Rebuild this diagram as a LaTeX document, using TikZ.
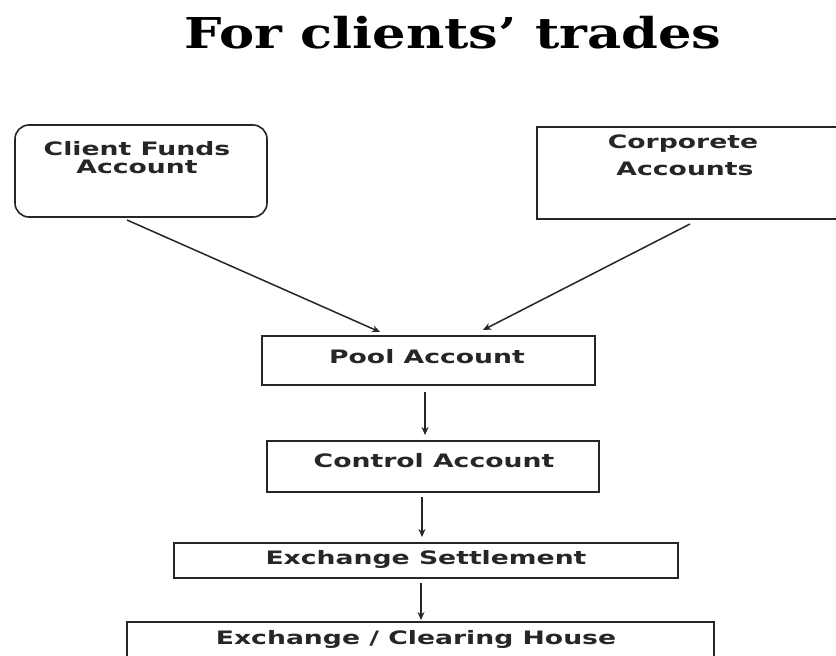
\documentclass[tikz,border=0pt]{standalone}
\usepackage{fontspec}
\newfontfamily\titlefont{DejaVu Serif}[FakeStretch=1.24]
\newfontfamily\boxfont{DejaVu Sans}[FakeStretch=1.44]
\usetikzlibrary{arrows.meta}
\begin{document}
\begin{tikzpicture}[x=1pt,y=-1pt,
  frame/.style={draw=black!85, line width=1.6pt, inner sep=0pt, outer sep=0pt, anchor=north west},
  boxtext/.style={font=\boxfont\bfseries\fontsize{18.5}{18.5}\selectfont, text=black!85, inner sep=0pt, anchor=base},
  flow/.style={draw=black!85, line width=1.5pt, -{Stealth[length=8pt,width=7pt]}}]
\useasboundingbox (0,0) rectangle (836,656);
\clip (0,0) rectangle (836,656);
\fill[white] (0,0) rectangle (836,656);

% heading
\node[anchor=base, inner sep=0pt, font=\titlefont\bfseries\fontsize{42.5}{42.5}\selectfont] (title) at (453,48) {For clients’ trades};

% boxes
\node[frame, rounded corners=14pt, minimum width=252pt, minimum height=92pt] (client) at (15,125) {};
\node[frame, minimum width=320pt, minimum height=92pt] (corp) at (537,127) {};
\node[frame, minimum width=333pt, minimum height=49pt] (pool) at (262,336) {};
\node[frame, minimum width=332pt, minimum height=51pt] (ctrl) at (267,441) {};
\node[frame, minimum width=504pt, minimum height=35pt] (settle) at (174,543) {};
\node[frame, minimum width=587pt, minimum height=60pt] (house) at (127,622) {};

% box captions
\node[boxtext] (clientA) at (137,155) {Client Funds};
\node[boxtext] (clientB) at (137,173) {Account};
\node[boxtext] (corpA) at (683,148) {Corporete};
\node[boxtext] (corpB) at (685,175) {Accounts};
\node[boxtext] (poolT) at (427,363) {Pool Account};
\node[boxtext] (ctrlT) at (434,467) {Control Account};
\node[boxtext] (settleT) at (426,564) {Exchange Settlement};
\node[boxtext] (houseT) at (416,644) {Exchange / Clearing House};

% arrow columns
\coordinate (c1) at (425,0);
\coordinate (c2) at (422,0);
\coordinate (c3) at (421,0);

% connectors
\draw[flow] ([xshift=-14pt,yshift=-3pt]client.south) -- ([xshift=-48.5pt,yshift=4pt]pool.north);
\draw[flow] ([xshift=-7pt,yshift=-5pt]corp.south) -- ([xshift=54.5pt,yshift=6pt]pool.north);
\draw[flow, shorten <=7pt, shorten >=6pt] (pool.south -| c1) -- (ctrl.north -| c1);
\draw[flow, shorten <=5pt, shorten >=6pt] (ctrl.south -| c2) -- (settle.north -| c2);
\draw[flow, shorten <=5pt, shorten >=2pt] (settle.south -| c3) -- (house.north -| c3);
\end{tikzpicture}
\end{document}
